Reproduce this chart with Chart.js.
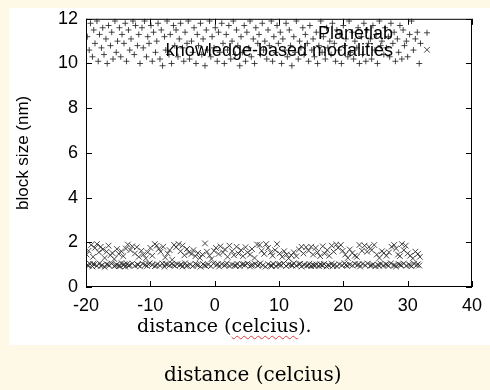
<!DOCTYPE html>
<html>
<head>
<meta charset="utf-8">
<script src="https://cdn.jsdelivr.net/npm/chart.js@4.4.1/dist/chart.umd.min.js"></script>
<style>
  html, body { margin: 0; padding: 0; }
  body { width: 490px; height: 390px; background: #fdf9e6; position: relative; overflow: hidden; }
  #panel { position: absolute; left: 9px; top: 8px; width: 481px; height: 337px; background: #fff; }
  #wrap { position: absolute; left: 0; top: 0; width: 490px; height: 345px; }
  .serif { position: absolute; font-family: "DejaVu Serif", serif; color: #000; white-space: nowrap; line-height: 1; }
  #xtitle { left: 137px; top: 316px; font-size: 19px; }
  #xtitle span { text-decoration: underline wavy #e23b3b; text-decoration-thickness: 1px; text-underline-offset: 3px; }
  #caption { left: 164px; top: 364px; font-size: 20px; }
</style>
</head>
<body>
<div id="panel"></div>
<div id="wrap"><canvas id="plot"></canvas></div>
<div class="serif" id="xtitle">distance (<span>celcius</span>).</div>
<div class="serif" id="caption">distance (celcius)</div>
<script>
const seriesNames = ["Planetlab", "knowledge-based modalities"];
const xTicks = [-20, -10, 0, 10, 20, 30, 40];
const yTicks = [0, 2, 4, 6, 8, 10, 12];

// Planetlab: [x, y]
const planetlab = [
  [-19.8,11.2],[-19.5,10.6],[-19.3,11.8],[-19.0,10.3],[-18.8,11.5],[-18.6,10.9],[-18.3,11.9],[-18.1,10.1],
  [-17.9,11.3],[-17.6,10.7],[-17.4,11.6],[-17.2,10.4],[-16.9,11.1],[-16.7,10.0],[-16.5,11.7],[-16.2,10.8],
  [-16.0,11.4],[-15.8,10.2],[-15.5,11.9],[-15.3,10.5],[-15.1,11.0],[-14.8,11.6],[-14.6,10.3],[-14.4,11.3],
  [-14.1,10.9],[-13.9,11.8],[-13.7,10.1],[-13.4,11.5],[-13.2,10.6],[-13.0,11.1],[-12.7,11.9],[-12.5,10.4],
  [-12.3,11.7],[-12.0,10.8],[-11.8,11.3],[-11.6,10.0],[-11.3,11.6],[-11.1,10.7],[-10.9,11.9],[-10.6,10.3],
  [-10.4,11.2],[-10.2,10.9],[-9.9,11.7],[-9.7,10.1],[-9.5,11.4],[-9.2,10.5],[-9.0,11.0],[-8.8,11.8],
  [-8.5,10.2],[-8.3,11.5],[-8.1,9.9],[-7.8,11.2],[-7.6,10.6],[-7.4,11.9],[-7.1,10.4],[-6.9,11.3],
  [-6.7,10.0],[-6.4,11.7],[-6.2,10.8],[-6.0,11.5],[-5.7,10.3],[-5.5,11.1],[-5.3,11.8],[-5.0,10.7],
  [-4.8,10.1],[-4.6,11.4],[-4.3,10.9],[-4.1,11.9],[-3.9,10.2],[-3.6,11.0],[-3.4,10.5],[-3.2,11.6],
  [-2.9,10.0],[-2.7,11.3],[-2.5,10.8],[-2.2,11.8],[-2.0,10.4],[-1.8,11.1],[-1.5,9.9],[-1.3,11.5],
  [-1.1,10.6],[-0.8,11.9],[-0.6,10.3],[-0.4,11.2],[-0.1,10.7],[0.1,11.6],[0.4,10.1],[0.6,11.4],
  [0.8,10.5],[1.1,11.8],[1.3,10.9],[1.5,10.0],[1.8,11.3],[2.0,10.6],[2.2,11.7],[2.5,10.2],
  [2.7,11.0],[2.9,11.9],[3.2,10.4],[3.4,11.5],[3.6,10.8],[3.9,9.9],[4.1,11.2],[4.3,10.5],
  [4.6,11.7],[4.8,10.1],[5.0,11.4],[5.3,10.7],[5.5,11.9],[5.7,10.3],[6.0,11.1],[6.2,10.0],
  [6.4,11.6],[6.7,10.9],[6.9,11.3],[7.1,10.4],[7.4,11.8],[7.6,10.6],[7.8,11.0],[8.1,10.2],
  [8.3,11.5],[8.5,10.8],[8.8,11.9],[9.0,10.1],[9.2,11.2],[9.5,10.5],[9.7,11.7],[9.9,10.9],
  [10.2,11.4],[10.4,10.0],[10.6,11.1],[10.9,10.6],[11.1,11.8],[11.3,10.3],[11.6,11.5],[11.8,10.8],
  [12.0,9.9],[12.3,11.2],[12.5,10.5],[12.7,11.9],[13.0,10.2],[13.2,11.0],[13.4,10.7],[13.7,11.6],
  [13.9,10.4],[14.1,11.3],[14.4,10.9],[14.6,10.1],[14.8,11.7],[15.1,10.6],[15.3,11.1],[15.5,10.3],
  [15.8,11.4],[16.0,10.0],[16.2,10.8],[16.5,11.9],[16.7,10.5],[16.9,11.2],[17.2,10.2],[17.4,11.6],
  [17.6,10.7],[17.9,11.0],[18.1,10.4],[18.3,11.8],[18.6,10.9],[18.8,10.1],[19.0,11.5],[19.3,10.6],
  [19.5,11.3],[19.7,10.0],[20.0,11.7],[20.2,10.8],[20.4,11.1],[20.7,10.3],[20.9,11.9],[21.1,10.5],
  [21.4,11.4],[21.6,10.2],[21.8,11.0],[22.1,10.7],[22.3,11.6],[22.5,10.0],[22.8,11.2],[23.0,10.4],
  [23.2,11.8],[23.5,10.1],[23.7,11.5],[23.9,10.9],[24.2,11.1],[24.4,10.2],[24.6,11.7],[24.9,10.6],
  [25.1,11.3],[25.3,10.0],[25.6,11.9],[25.8,10.8],[26.0,11.0],[26.3,10.4],[26.5,11.6],[26.7,10.7],
  [27.0,11.2],[27.2,10.3],[27.4,11.8],[27.7,10.9],[27.9,11.4],[28.1,10.1],[28.4,11.1],[28.6,10.5],
  [28.8,11.7],[29.1,10.2],[29.3,11.5],[29.5,10.8],[29.8,11.0],[30.0,10.3],[30.3,11.3],[30.6,11.9],
  [30.9,10.6],[31.2,11.1],[31.5,11.4],[31.8,10.0],[32.0,10.9]
];

// knowledge-based modalities, lower row near 1
const kbLow = [
  [-19.8,0.98],[-19.4,1.04],[-19.0,0.92],[-18.7,1.01],[-18.3,0.95],[-17.9,1.06],[-17.5,0.97],[-17.1,0.90],
  [-16.8,1.02],[-16.4,0.96],[-16.0,1.05],[-15.6,0.93],[-15.2,1.00],[-14.9,0.94],[-14.5,1.07],[-14.2,0.99],
  [-13.9,0.91],[-13.6,1.03],[-13.2,0.97],[-12.8,1.05],[-12.4,0.95],[-12.0,1.01],[-11.6,0.92],[-11.2,1.04],
  [-10.8,0.98],[-10.5,0.94],[-10.1,1.06],[-9.7,0.99],[-9.3,0.93],[-8.9,1.03],[-8.5,0.96],[-8.1,1.05],
  [-7.8,0.91],[-7.4,1.00],[-7.0,0.97],[-6.6,1.04],[-6.2,0.94],[-5.8,1.02],[-5.4,0.98],[-5.0,0.92],
  [-4.6,1.06],[-4.2,0.96],[-3.8,1.01],[-3.4,0.93],[-3.0,1.04],[-2.6,0.97],[-2.2,0.91],[-1.8,1.03],
  [-1.4,0.95],[-1.0,1.00],[-0.6,0.93],[-0.2,1.05],[0.3,0.98],[0.7,0.92],[1.1,1.02],[1.5,0.96],
  [1.9,1.06],[2.3,0.94],[2.7,1.00],[3.1,0.97],[3.5,1.04],[3.9,0.93],[4.3,1.01],[4.7,0.98],
  [5.1,1.05],[5.5,0.92],[5.9,0.99],[6.3,1.03],[6.7,0.95],[7.1,1.06],[7.5,0.97],[7.9,0.91],
  [8.3,1.02],[8.7,0.96],[9.1,1.04],[9.5,0.93],[9.9,1.00],[10.3,0.97],[10.7,1.05],[11.1,0.94],
  [11.5,1.01],[11.9,0.98],[12.3,1.06],[12.7,0.95],[13.1,1.02],[13.5,0.92],[13.9,0.99],[14.3,0.95],
  [14.7,1.04],[15.0,0.93],[15.4,0.97],[15.8,1.01],[16.2,0.94],[16.6,0.98],[17.0,1.03],[17.4,0.92],
  [17.8,0.96],[18.2,1.05],[18.6,0.99],[19.0,0.93],[19.4,1.02],[19.8,0.97],[20.2,1.06],[20.6,0.94],
  [21.0,1.00],[21.4,0.96],[21.8,1.04],[22.2,0.98],[22.6,0.92],[23.0,1.03],[23.4,0.97],[23.8,1.05],
  [24.2,0.95],[24.6,1.01],[25.0,0.93],[25.4,0.99],[25.8,1.04],[26.2,0.96],[26.6,1.02],[27.0,0.94],
  [27.4,1.06],[27.8,0.98],[28.2,0.92],[28.6,1.03],[29.0,0.97],[29.4,1.05],[29.8,0.95],[30.2,1.01],
  [30.6,0.93],[31.0,1.04],[31.4,0.98],[31.8,0.96],
  [-19.6,0.95],[-18.9,1.03],[-17.7,0.94],[-16.6,1.00],[-15.4,0.97],[-14.7,0.93],[-14.0,1.02],[-13.4,0.95],
  [-11.9,0.99],[-10.3,1.02],[-9.1,0.96],[-7.6,1.03],[-6.4,0.98],[-5.2,1.01],[-4.4,0.94],[-2.8,1.00],
  [-1.6,0.97],[0.5,1.03],[1.7,0.99],[3.3,0.95],[4.5,1.03],[5.7,0.97],[6.9,1.00],[8.9,0.94],
  [10.1,1.03],[12.1,0.96],[13.3,1.04],[14.5,0.97],[15.2,1.00],[15.6,0.95],[16.4,1.02],[16.8,0.96],
  [17.6,0.99],[18.4,0.94],[20.4,0.98],[22.4,1.02],[24.4,0.97],[25.6,0.94],[26.8,1.00],[28.0,0.96],
  [28.8,0.99],[30.4,0.97],[31.6,1.02]
];

// knowledge-based modalities, upper cluster 1.2 - 2
const kbHigh = [
  [-19.9,1.45],[-19.6,1.62],[-19.2,1.88],[-18.9,1.35],[-18.6,1.75],[-18.3,1.92],[-18.0,1.55],[-17.7,1.80],
  [-17.4,1.68],[-17.1,1.30],[-16.8,1.58],[-16.5,1.85],[-16.2,1.42],[-15.9,1.52],[-15.6,1.25],[-15.2,1.70],
  [-14.9,1.48],[-14.5,1.60],[-14.2,1.38],[-13.8,1.72],[-13.5,1.90],[-13.1,1.65],[-12.8,1.82],[-12.4,1.50],
  [-12.1,1.78],[-11.8,1.35],[-11.4,1.62],[-11.1,1.45],[-10.7,1.28],[-10.4,1.55],[-10.0,1.75],[-9.7,1.40],
  [-9.3,1.92],[-9.0,1.85],[-8.7,1.70],[-8.4,1.58],[-8.0,1.80],[-7.7,1.32],[-7.3,1.50],[-7.0,1.65],
  [-6.6,1.22],[-6.3,1.88],[-6.0,1.78],[-5.6,1.92],[-5.3,1.60],[-5.0,1.85],[-4.7,1.42],[-4.3,1.70],
  [-4.0,1.55],[-3.6,1.48],[-3.3,1.65],[-3.0,1.38],[-2.6,1.52],[-2.3,1.30],[-1.9,1.45],[-1.5,1.95],
  [-1.2,1.58],[-0.8,1.40],[-0.5,1.25],[-0.1,1.62],[0.2,1.75],[0.6,1.48],[0.9,1.82],[1.3,1.55],
  [1.6,1.68],[2.0,1.35],[2.3,1.85],[2.7,1.60],[3.0,1.42],[3.4,1.80],[3.7,1.50],[4.1,1.65],
  [4.4,1.38],[4.8,1.78],[5.1,1.55],[5.5,1.45],[5.8,1.70],[6.2,1.30],[6.6,1.90],[7.0,1.88],
  [7.3,1.62],[7.7,1.48],[8.0,1.92],[8.3,1.75],[8.7,1.55],[9.0,1.40],[9.4,1.65],[9.7,1.92],
  [10.1,1.50],[10.5,1.35],[10.8,1.60],[11.2,1.45],[11.5,1.28],[11.9,1.42],[12.3,1.55],[12.7,1.38],
  [13.1,1.68],[13.5,1.80],[13.8,1.50],[14.2,1.78],[14.6,1.62],[15.0,1.80],[15.3,1.45],[15.7,1.75],
  [16.0,1.55],[16.4,1.38],[16.8,1.82],[17.1,1.50],[17.5,1.65],[17.8,1.40],[18.2,1.85],[18.5,1.58],
  [18.9,1.90],[19.2,1.75],[19.6,1.88],[19.9,1.62],[20.3,1.45],[20.7,1.30],[21.0,1.68],[21.4,1.52],
  [21.8,1.40],[22.1,1.35],[22.5,1.88],[22.9,1.62],[23.3,1.85],[23.7,1.58],[24.0,1.80],[24.4,1.65],
  [24.8,1.88],[25.2,1.45],[25.6,1.30],[26.0,1.60],[26.3,1.52],[26.7,1.40],[27.1,1.55],[27.5,1.80],
  [27.9,1.88],[28.2,1.72],[28.5,1.45],[28.8,1.38],[29.1,1.92],[29.4,1.65],[29.7,1.85],[30.0,1.50],
  [30.4,1.40],[30.8,1.28],[31.2,1.58],[31.6,1.48],[31.9,1.35]
];

const markColor = "rgba(40,40,40,0.85)";
const sansFont = "'Liberation Sans', Arial, sans-serif";

const toPts = arr => arr.map(p => ({ x: p[0], y: p[1] }));

// gnuplot style frame: border, inward ticks on all four sides, key inside top right
const gnuFrame = {
  id: "gnuFrame",
  afterDraw(chart) {
    const { ctx, chartArea: a, scales } = chart;
    ctx.save();
    ctx.strokeStyle = "#000";
    ctx.lineWidth = 1;
    ctx.strokeRect(a.left + 0.5, a.top + 0.5, a.right - a.left - 1, a.bottom - a.top - 1);
    const tl = 6;
    ctx.beginPath();
    yTicks.forEach(v => {
      const y = Math.round(scales.y.getPixelForValue(v)) + 0.5;
      ctx.moveTo(a.left, y); ctx.lineTo(a.left + tl, y);
      ctx.moveTo(a.right, y); ctx.lineTo(a.right - tl, y);
    });
    xTicks.forEach(v => {
      const x = Math.round(scales.x.getPixelForValue(v)) + 0.5;
      ctx.moveTo(x, a.bottom); ctx.lineTo(x, a.bottom - tl);
      ctx.moveTo(x, a.top); ctx.lineTo(x, a.top + tl);
    });
    ctx.stroke();

    // key
    ctx.fillStyle = "#000";
    ctx.font = "18px " + sansFont;
    ctx.textAlign = "right";
    ctx.textBaseline = "alphabetic";
    const kx = a.right - 79, sx = a.right - 45;
    const rows = [a.top + 20, a.top + 37];
    const styles = [{ s: "cross", r: 3 }, { s: "crossRot", r: 4 }];
    ctx.strokeStyle = markColor;
    seriesNames.forEach((name, i) => {
      ctx.fillText(name, kx, rows[i]);
      Chart.helpers.drawPoint(ctx, {
        pointStyle: styles[i].s, radius: styles[i].r, rotation: 0, borderWidth: 1
      }, sx, rows[i] - 6);
    });
    ctx.restore();
  }
};

new Chart(document.getElementById("plot"), {
  type: "scatter",
  data: {
    datasets: [
      {
        label: seriesNames[0],
        data: toPts(planetlab),
        pointStyle: "cross",
        pointRadius: 3,
        borderColor: markColor,
        borderWidth: 1
      },
      {
        label: seriesNames[1],
        data: toPts(kbLow.concat(kbHigh)),
        pointStyle: "crossRot",
        pointRadius: 4,
        borderColor: markColor,
        borderWidth: 1
      }
    ]
  },
  options: {
    responsive: true,
    maintainAspectRatio: false,
    animation: false,
    layout: { padding: { top: 17, right: 15, left: 0, bottom: 0 } },
    plugins: { legend: { display: false }, tooltip: { enabled: false } },
    elements: { point: { hoverRadius: 3 } },
    scales: {
      x: {
        type: "linear",
        min: -20, max: 40,
        afterBuildTicks: s => { s.ticks = xTicks.map(v => ({ value: v })); },
        ticks: { color: "#000", font: { family: sansFont, size: 18 }, padding: 8, maxRotation: 0 },
        grid: { display: false, drawTicks: false },
        border: { display: false },
        afterFit: s => { s.height = 58; }
      },
      y: {
        min: 0, max: 12,
        afterBuildTicks: s => { s.ticks = yTicks.map(v => ({ value: v })); },
        ticks: { color: "#000", font: { family: sansFont, size: 18 }, padding: 8 },
        grid: { display: false, drawTicks: false },
        border: { display: false },
        title: {
          display: true,
          text: "block size (nm)",
          color: "#000",
          font: { family: sansFont, size: 17 },
          padding: { top: 13, bottom: 0 }
        },
        afterFit: s => { s.width = 86; }
      }
    }
  },
  plugins: [gnuFrame]
});
</script>
</body>
</html>
